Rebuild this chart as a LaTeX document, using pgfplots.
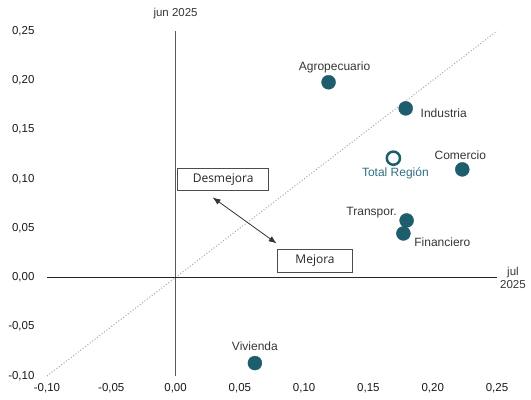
\documentclass[border=0pt]{standalone}
\usepackage{fontspec}
\setmainfont{Liberation Sans}
\newfontfamily\boxfont{Open Sans}
\usepackage{pgfplots}
\usepackage{pgfplotstable}
\usetikzlibrary{arrows.meta}
\pgfplotsset{compat=1.18}
\definecolor{teal1}{HTML}{1E5D6C}
\definecolor{tealtxt}{HTML}{2F6F86}
\definecolor{txt}{HTML}{363636}

\pgfplotstableread[col sep=comma]{
x,y,label,dx,dy
0.119,0.198,Agropecuario,6,15
0.179,0.1715,Industria,38,-5
0.223,0.1096,Comercio,-2,14
0.1797,0.0578,Transpor.,-35,8
0.1772,0.0446,Financiero,39,-9
0.0617,-0.0869,Vivienda,0,17
}\sectors

\pgfplotstableread[col sep=comma]{
x,y,label,dx,dy
0.1694,0.121,Total Región,2,-15
}\total

\begin{document}
\begin{tikzpicture}
\begin{axis}[
  name=ax,
  scale only axis,
  width=450pt, height=345pt,
  xmin=-0.10, xmax=0.25, ymin=-0.10, ymax=0.25,
  xtick={-0.10,-0.05,0,0.05,0.10,0.15,0.20,0.25},
  ytick={-0.10,-0.05,0,0.05,0.10,0.15,0.20,0.25},
  axis line style={draw=none},
  major tick length=0pt,
  tick style={draw=none},
  /pgf/number format/.cd, fixed, fixed zerofill, precision=2, use comma, assume math mode=true,
  /pgfplots/.cd,
  ticklabel style={font=\fontsize{11.5}{13}\selectfont, text=black!90},
  yticklabel style={xshift=-9pt},
  xticklabel style={yshift=-4pt},
  clip=false,
]
\addplot[gray!70, dotted, line width=1pt] coordinates {(-0.10,-0.10) (0.25,0.25)};
\draw[black!65, line width=1.6pt] (axis cs:0,-0.10) -- (axis cs:0,0.25);
\draw[black!85, line width=1.4pt] (axis cs:-0.10,0) -- (axis cs:0.25,0);

\addplot[only marks, mark=*, mark size=7pt, mark options={fill=teal1, draw=teal1},
  nodes near coords, point meta=explicit symbolic,
  visualization depends on={\thisrow{dx}\as\dx},
  visualization depends on={\thisrow{dy}\as\dy},
  every node near coord/.append style={anchor=center, xshift=\dx pt, yshift=\dy pt,
     font=\fontsize{12}{14}\selectfont, text=txt}
] table[x=x, y=y, meta=label] {\sectors};

\addplot[only marks, mark=*, mark size=6.6pt, mark options={fill=white, draw=teal1, line width=2.5pt},
  nodes near coords, point meta=explicit symbolic,
  visualization depends on={\thisrow{dx}\as\dx},
  visualization depends on={\thisrow{dy}\as\dy},
  every node near coord/.append style={anchor=center, xshift=\dx pt, yshift=\dy pt,
     font=\fontsize{12}{14}\selectfont, text=tealtxt}
] table[x=x, y=y, meta=label] {\total};

\draw[black!80, line width=0.8pt, {Latex[length=8pt,width=6pt]}-{Latex[length=8pt,width=6pt]}] (axis cs:0.0288,0.0812) -- (axis cs:0.0786,0.0345);
\node[draw=black!70, line width=0.8pt, minimum width=91pt, minimum height=22pt, inner sep=0pt,
  font=\boxfont\fontsize{12}{14}\selectfont, text=black!85] at (axis cs:0.037,0.0994) {Desmejora};
\node[draw=black!70, line width=0.8pt, minimum width=75pt, minimum height=23pt, inner sep=0pt,
  font=\boxfont\fontsize{12}{14}\selectfont, text=black!85] at (axis cs:0.1085,0.0167) {Mejora};

\node[anchor=south, font=\fontsize{11.5}{13}\selectfont, text=txt, yshift=9pt] at (axis cs:0,0.25) {jun 2025};
\node[anchor=west, align=center, font=\fontsize{11.5}{13}\selectfont, text=txt, xshift=2pt, inner sep=1pt] at (axis cs:0.25,0) {jul\\2025};
\end{axis}
\pgfresetboundingbox
\path (ax.south west) ++(-47pt,-24pt) rectangle ([shift={(34pt,31pt)}]ax.north east);
\end{tikzpicture}
\end{document}
